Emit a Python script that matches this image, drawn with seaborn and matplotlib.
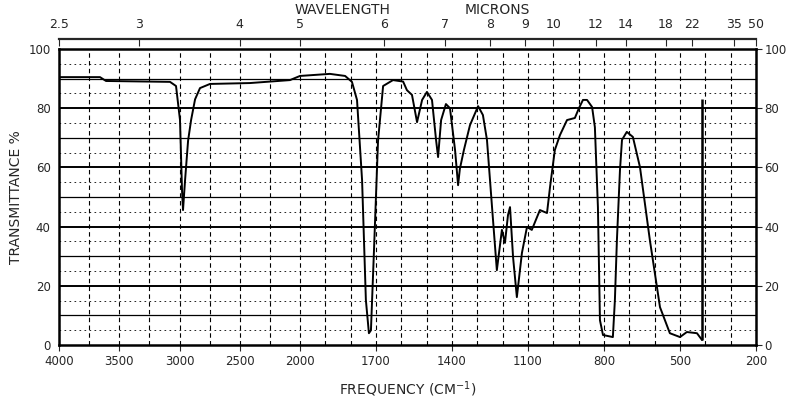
import numpy as np
import pandas as pd
import matplotlib
matplotlib.use("Agg")
import matplotlib.pyplot as plt
import seaborn as sns

# -----------------------------
# Spectrum
# -----------------------------
wavenumber = [3992, 3660, 3610, 3079, 3029, 2996, 2979, 2971, 2954, 2929,
              2904, 2871, 2830, 2747, 2415, 2083, 2000, 1882, 1822, 1795,
              1775, 1755, 1740, 1728, 1720, 1708, 1692, 1672, 1633, 1593,
              1578, 1558, 1538, 1518, 1499, 1479, 1463, 1455, 1443, 1424,
              1408, 1388, 1376, 1369, 1353, 1329, 1297, 1278, 1262, 1242,
              1223, 1203, 1191, 1179, 1171, 1159, 1144, 1124, 1104, 1085,
              1053, 1025, 1013, 994, 974, 946, 915, 899, 883, 867,
              847, 836, 824, 816, 804, 765, 757, 749, 737, 729,
              710, 686, 658, 619, 579, 540, 500, 473, 433, 413]
transmittance = [90.5, 90.5, 89.2, 88.9, 87.5, 76.0, 52.0, 45.6, 55.7, 69.0,
                 76.0, 83.0, 86.8, 88.2, 88.5, 89.5, 90.9, 91.6, 90.9, 88.9,
                 82.8, 55.7, 15.2, 4.0, 5.0, 32.0, 69.0, 87.5, 89.5, 89.0,
                 86.1, 84.5, 75.3, 82.8, 85.5, 82.8, 69.3, 63.5, 76.0, 81.4,
                 80.0, 65.9, 54.0, 59.5, 65.9, 74.3, 80.7, 77.7, 69.3, 46.6,
                 25.3, 38.9, 34.5, 43.9, 46.6, 29.7, 16.2, 31.1, 39.9, 38.9,
                 45.6, 44.6, 53.4, 65.9, 70.9, 76.0, 76.7, 80.0, 82.8, 82.8,
                 80.4, 73.6, 46.6, 8.4, 3.4, 2.7, 15.2, 35.5, 59.0, 69.3,
                 72.0, 70.3, 60.1, 35.5, 12.8, 4.0, 2.7, 4.4, 4.0, 1.7]

freq_ticks = [4000, 3500, 3000, 2500, 2000, 1700, 1400, 1100, 800, 500, 200]
micron_ticks = [2.5, 3, 4, 5, 6, 7, 8, 9, 10, 12, 14, 18, 22, 35, 50]
micron_labels = ["2.5", "3", "4", "5", "6", "7", "8", "9", "10",
                 "12", "14", "18", "22", "35", "50"]
y_ticks = [0, 20, 40, 60, 80, 100]

df = pd.DataFrame({"freq": wavenumber, "T": transmittance})


# two-scale chart paper: 4000-2000 compressed, 2000-200 expanded
def fwd(w):
    w = np.asarray(w, dtype=float)
    return np.where(w >= 2000, 456 + (w - 2000) * 241 / 2000,
                    (w - 200) * 456 / 1800)


def inv(p):
    p = np.asarray(p, dtype=float)
    return np.where(p >= 456, 2000 + (p - 456) * 2000 / 241,
                    200 + p * 1800 / 456)


sns.set_style("white")
plt.rcParams["font.family"] = ["DejaVu Sans"]

fig = plt.figure(figsize=(7.87, 4.05), dpi=100)
ax = fig.add_axes([0.075, 0.148, 0.8856, 0.731])

ax.set_xscale("function", functions=(fwd, inv))
ax.set_xlim(4000, 200)
ax.set_ylim(0, 100)

# chart paper grid
for v in list(range(4000, 2000, -250)) + list(range(2000, 199, -100)):
    ax.axvline(v, color="black", lw=0.8, ls=(0, (4, 3)), zorder=1)
for h in range(10, 100, 10):
    ax.axhline(h, color="black", lw=1.4 if h % 20 == 0 else 0.9, zorder=1)
for h in range(5, 100, 10):
    ax.axhline(h, color="black", lw=0.6, ls=(0, (2, 4)), zorder=1)

sns.lineplot(data=df, x="freq", y="T", color="black", lw=1.4,
             sort=False, ax=ax, zorder=3)
ax.vlines(413, 1.7, 83, color="black", lw=1.8, zorder=3)

ax.set_xticks(freq_ticks)
ax.set_xticklabels([str(t) for t in freq_ticks])
ax.minorticks_off()
ax.set_yticks(y_ticks)
ax.tick_params(axis="both", labelsize=8.5, length=4, direction="out")
ax.tick_params(axis="y", right=True, labelright=True, pad=2)
ax.set_xlabel("FREQUENCY (CM$^{-1}$)", fontsize=10, labelpad=8)
ax.set_ylabel("TRANSMITTANCE %", fontsize=10, labelpad=4)
for s in ax.spines.values():
    s.set_linewidth(1.8)
    s.set_color("black")

# wavelength scale on top
ax2 = ax.twiny()
ax2.set_xscale("function", functions=(fwd, inv))
ax2.set_xlim(4000, 200)
ax2.set_xticks([10000 / m for m in micron_ticks])
ax2.set_xticklabels(micron_labels)
ax2.minorticks_off()
ax2.spines["top"].set_position(("outward", 7))
ax2.spines["top"].set_linewidth(1.6)
for side in ["left", "right", "bottom"]:
    ax2.spines[side].set_visible(False)
ax2.tick_params(axis="x", direction="in", length=5, labelsize=9, pad=6)
fig.text(0.435, 0.975, "WAVELENGTH", ha="center", va="center", fontsize=10)
fig.text(0.632, 0.975, "MICRONS", ha="center", va="center", fontsize=10)

fig.savefig("out.png", dpi=100)
